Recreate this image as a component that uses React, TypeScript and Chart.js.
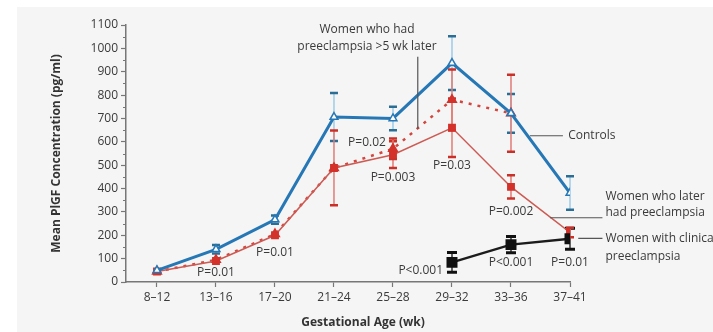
import React, { useEffect, useRef } from "react";
import { Chart, registerables } from "chart.js";
Chart.register(...registerables);

// ---------- data ----------
const categories = ["8–12", "13–16", "17–20", "21–24", "25–28", "29–32", "33–36", "37–41"];
const yTickValues = [0, 100, 200, 300, 400, 500, 600, 700, 800, 900, 1000, 1100];

const controls = [50, 140, 267, 706, 700, 937, 722, 381];
const controlsErr = [0, 18, 18, 103, 50, 115, 83, 72];

const laterPE = [45, 90, 200, 488, 545, 660, 407, 212];
const laterPEErr = [0, 0, 0, 160, 57, 125, 50, 20];

const earlyPE = [45, 95, 205, 488, 570, 780, 722, null];
const earlyPEErr = [0, 0, 0, 0, 44, 130, 165, 0];

const clinicalPE = [null, null, null, null, null, 84, 160, 185];
const clinicalPEErr = [0, 0, 0, 0, 0, 42, 35, 45];

const pValueTexts = ["P=0.01", "P=0.01", "P=0.02", "P=0.003", "P=0.03", "P=0.002", "P<0.001", "P<0.001", "P=0.01"];
const pValueAnchorX = [1, 2, 3.56, 4, 5, 6, 4.47, 6, 7];
const pValueAnchorY = [40, 125, 596, 446, 498, 301, 48, 83, 83];

const FONT = '"Open Sans", "DejaVu Sans", sans-serif';
const TEXT = "#3a3a3a";

const toPts = (arr: (number | null)[]) => arr.map((v, i) => ({ x: i, y: v }));

const bgPlugin = {
  id: "bg",
  beforeDraw(chart: any) {
    const { ctx, width, height } = chart;
    ctx.save();
    ctx.fillStyle = "#ffffff";
    ctx.fillRect(0, 0, width, height);
    ctx.fillStyle = "#f5f5f5";
    ctx.fillRect(17, 7, width - 17, height - 7);
    ctx.restore();
  },
};

const errorBarPlugin = {
  id: "errbars",
  beforeDatasetsDraw(chart: any) {
    const { ctx } = chart;
    const xs = chart.scales.x;
    const ys = chart.scales.y;
    chart.data.datasets.forEach((ds: any) => {
      if (!ds.errors) return;
      ds.data.forEach((p: any, i: number) => {
        const e = ds.errors[i];
        if (p.y == null || !e) return;
        const x = xs.getPixelForValue(p.x);
        const yt = ys.getPixelForValue(p.y + e);
        const yb = ys.getPixelForValue(p.y - e);
        ctx.save();
        ctx.strokeStyle = ds.errStem;
        ctx.lineWidth = ds.errStemWidth || 1.5;
        ctx.beginPath();
        ctx.moveTo(x, yt);
        ctx.lineTo(x, yb);
        ctx.stroke();
        ctx.strokeStyle = ds.errCap;
        ctx.lineWidth = ds.errCapWidth || 2.5;
        const hw = ds.errCapHalf || 4;
        ctx.beginPath();
        ctx.moveTo(x - hw, yt);
        ctx.lineTo(x + hw, yt);
        ctx.moveTo(x - hw, yb);
        ctx.lineTo(x + hw, yb);
        ctx.stroke();
        ctx.restore();
      });
    });
  },
};

const annotationPlugin = {
  id: "annots",
  afterDraw(chart: any) {
    const { ctx, chartArea } = chart;
    const xs = chart.scales.x;
    const ys = chart.scales.y;
    const px = (v: number) => xs.getPixelForValue(v);
    const py = (v: number) => ys.getPixelForValue(v);
    ctx.save();
    // minor y ticks
    ctx.strokeStyle = "#777";
    ctx.lineWidth = 1;
    for (let i = 0; i < yTickValues.length - 1; i++) {
      const mid = (yTickValues[i] + yTickValues[i + 1]) / 2;
      const y = Math.round(py(mid)) + 0.5;
      ctx.beginPath();
      ctx.moveTo(chartArea.left - 3, y);
      ctx.lineTo(chartArea.left, y);
      ctx.stroke();
    }

    ctx.fillStyle = TEXT;
    ctx.font = `12px ${FONT}`;
    ctx.textBaseline = "middle";
    ctx.textAlign = "center";
    pValueTexts.forEach((t, i) => {
      ctx.fillText(t, px(pValueAnchorX[i]), py(pValueAnchorY[i]));
    });

    // series labels
    ctx.fillText("Women who had", px(3.56), py(1080));
    ctx.fillText("preeclampsia >5 wk later", px(3.56), py(1007));
    ctx.textAlign = "left";
    ctx.fillText("Controls", px(6.97), py(626));
    ctx.fillText("Women who later", px(7.6), py(365));
    ctx.fillText("had preeclampsia", px(7.6), py(295));
    ctx.fillText("Women with clinical", px(7.6), py(185));
    ctx.fillText("preeclampsia", px(7.6), py(108));

    // leader lines
    ctx.strokeStyle = "#555";
    ctx.lineWidth = 1.2;
    ctx.beginPath();
    ctx.moveTo(px(4.42), py(964));
    ctx.lineTo(px(4.42), py(656));
    ctx.moveTo(px(6.32), py(626));
    ctx.lineTo(px(6.88), py(626));
    ctx.moveTo(px(6.66), py(275));
    ctx.lineTo(px(7.55), py(275));
    ctx.moveTo(px(7.14), py(187));
    ctx.lineTo(px(7.55), py(187));
    ctx.stroke();

    // axis titles
    ctx.font = `bold 12px ${FONT}`;
    ctx.fillStyle = "#333";
    ctx.textAlign = "center";
    ctx.fillText("Gestational Age (wk)", 363, 323);
    ctx.translate(57, (chartArea.top + chartArea.bottom) / 2);
    ctx.rotate(-Math.PI / 2);
    ctx.fillText("Mean PlGF Concentration (pg/ml)", 0, 0);
    ctx.restore();
  },
};

export default function App() {
  const ref = useRef<HTMLCanvasElement>(null);
  useEffect(() => {
    document.body.style.margin = "0";
    const canvas = ref.current!;
    const chart = new Chart(canvas, {
      type: "line",
      data: {
        datasets: [
          {
            label: "Controls",
            data: toPts(controls),
            borderColor: "#2677b5",
            borderWidth: 3,
            pointStyle: "triangle",
            pointRadius: 4.5,
            pointBackgroundColor: "#ffffff",
            pointBorderColor: "#2677b5",
            pointBorderWidth: 1.5,
            order: 0,
            errors: controlsErr,
            errStem: "#9ccbe8",
            errCap: "#2a6e96",
          } as any,
          {
            label: "Women with clinical preeclampsia",
            data: toPts(clinicalPE),
            borderColor: "#1c1c1c",
            borderWidth: 2.5,
            pointStyle: "rect",
            pointRadius: 6,
            pointBackgroundColor: "#111",
            pointBorderColor: "#111",
            order: 1,
            errors: clinicalPEErr,
            errStem: "#333",
            errCap: "#111",
            errCapWidth: 3,
            errCapHalf: 5,
          } as any,
          {
            label: "Women who later had preeclampsia",
            data: toPts(laterPE),
            borderColor: "#cd5a53",
            borderWidth: 1.5,
            pointStyle: "rect",
            pointRadius: 4.5,
            pointBackgroundColor: "#d3322b",
            pointBorderColor: "#d3322b",
            order: 2,
            errors: laterPEErr,
            errStem: "#e07b74",
            errCap: "#cc2f27",
          } as any,
          {
            label: "Women who had preeclampsia >5 wk later",
            data: toPts(earlyPE),
            borderColor: "#d3463e",
            borderWidth: 2.5,
            borderDash: [3, 6],
            pointStyle: "triangle",
            pointRadius: 4,
            pointBackgroundColor: "#d3322b",
            pointBorderColor: "#d3322b",
            order: 3,
            errors: earlyPEErr,
            errStem: "#e07b74",
            errCap: "#cc2f27",
          } as any,
        ],
      },
      options: {
        responsive: false,
        animation: false,
        layout: { padding: { top: 25, right: 143, left: 0, bottom: 0 } },
        plugins: { legend: { display: false }, tooltip: { enabled: false } },
        scales: {
          x: {
            type: "linear",
            min: -0.525,
            max: 7,
            afterBuildTicks: (s: any) => {
              s.ticks = categories.map((_, i) => ({ value: i }));
            },
            afterFit: (s: any) => {
              s.height = 50;
            },
            ticks: {
              autoSkip: false,
              maxRotation: 0,
              padding: 3,
              color: TEXT,
              font: { family: FONT, size: 12 },
              callback: (v: any) => categories[v as number] ?? "",
            },
            grid: { drawOnChartArea: false, tickLength: 5, color: "#777", tickWidth: 1.2 },
            border: { color: "#777", width: 1.5 },
          },
          y: {
            min: 0,
            max: 1100,
            afterBuildTicks: (s: any) => {
              s.ticks = yTickValues.map((v) => ({ value: v }));
            },
            afterFit: (s: any) => {
              s.width = 126;
            },
            ticks: {
              padding: 3,
              color: TEXT,
              font: { family: FONT, size: 12 },
              callback: (v: any) => String(v),
            },
            grid: { drawOnChartArea: false, tickLength: 5, color: "#777", tickWidth: 1.2 },
            border: { color: "#777", width: 1.5 },
          },
        },
      },
      plugins: [bgPlugin, errorBarPlugin, annotationPlugin],
    });
    return () => chart.destroy();
  }, []);
  return (
    <div style={{ width: 713, height: 332 }}>
      <canvas ref={ref} width={713} height={332} style={{ display: "block" }} />
    </div>
  );
}
